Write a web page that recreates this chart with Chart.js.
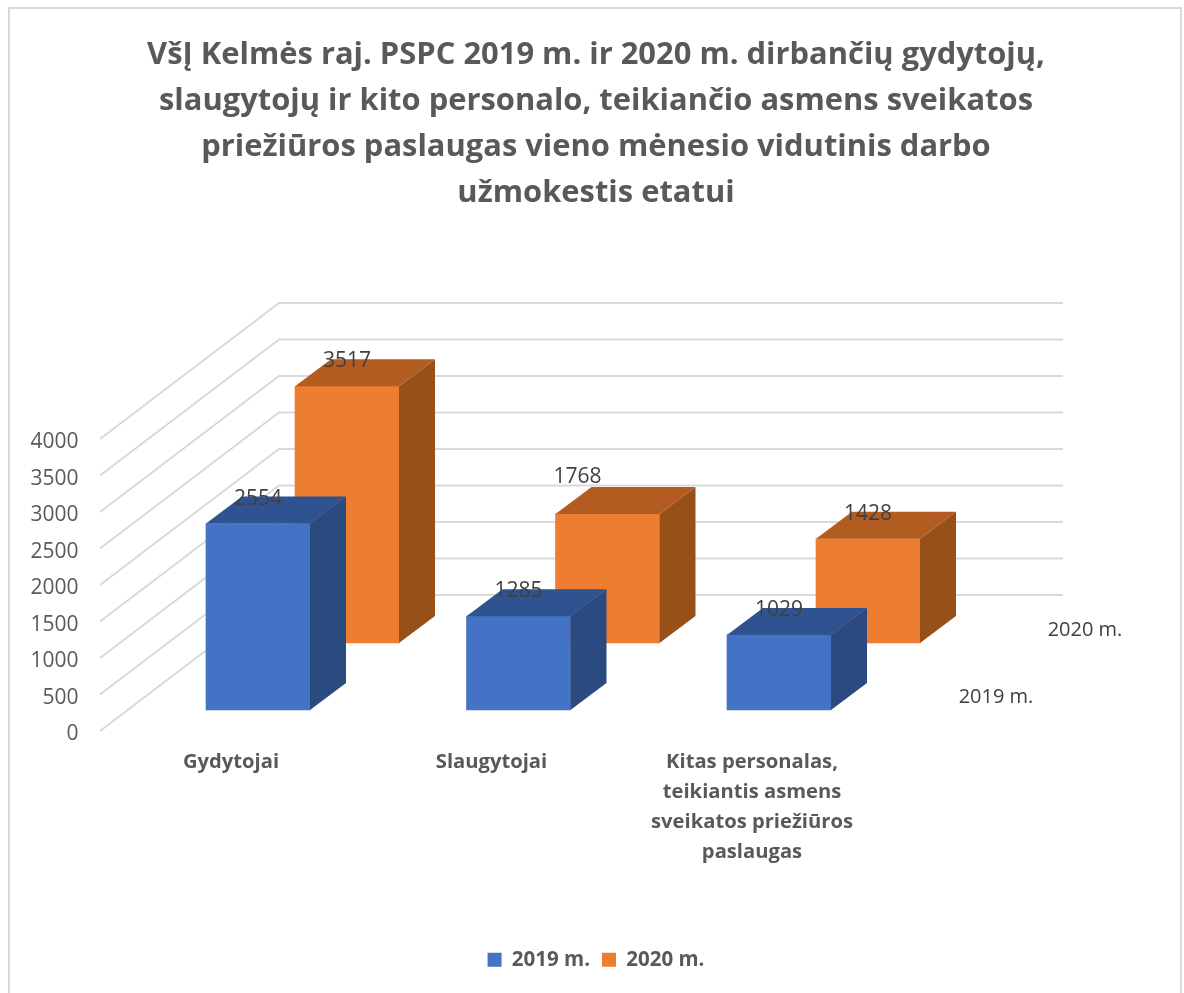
<!DOCTYPE html>
<html lang="lt">
<head>
<meta charset="utf-8">
<title>Vidutinis darbo užmokestis</title>
<style>html,body{margin:0;padding:0;background:#fff}canvas{display:block}</style>
<script src="https://cdn.jsdelivr.net/npm/chart.js@4"></script>
</head>
<body>
<canvas id="c" width="1184" height="993"></canvas>
<script>
const titleLines = [
  "VšĮ Kelmės raj. PSPC 2019 m. ir 2020 m. dirbančių gydytojų,",
  "slaugytojų ir kito personalo, teikiančio asmens sveikatos",
  "priežiūros paslaugas vieno mėnesio vidutinis darbo",
  "užmokestis etatui"
];
const categories = [
  ["Gydytojai"],
  ["Slaugytojai"],
  ["Kitas personalas,", "teikiantis asmens", "sveikatos priežiūros", "paslaugas"]
];
const seriesNames = ["2019 m.", "2020 m."];
const values2019 = [2554, 1285, 1029];
const values2020 = [3517, 1768, 1428];
const valueTicks = [0, 500, 1000, 1500, 2000, 2500, 3000, 3500, 4000];

const FONT = "'Open Sans', sans-serif";
const areaL = 100, areaR = 1063, areaT = 303, areaB = 731, padL = 8;
const pxPerUnit = 0.073, catStep = 260.5;
const labelX0 = 231, frontX0 = 258, rearX0 = 347;
const frontBase = 710, rearBase = 643, wallBase = 595;
const depthX = 36, depthY = 27, wallX = 279, labelNudge = 3.5;
// the one value label the reference has dragged away from its bar: dataset 1, category 1
const movedLabel = { dataset: 1, index: 1, dx: -30, dy: -12 };

const xRange = c0 => ({ offset: false, min: (areaL - c0) / catStep, max: (areaR - c0) / catStep });
const yRange = b => ({ min: -(areaB - b) / pxPerUnit, max: (b - areaT) / pxPerUnit });

const faces = [
  { front: "#4472C4", side: "#2A4A80", top: "#2F5391" },
  { front: "#ED7D31", side: "#985019", top: "#B35C21" }
];

const threeD = {
  id: "threeD",
  beforeDraw(chart) {
    const g = chart.ctx;
    g.save();
    g.strokeStyle = "#D9D9D9"; g.lineWidth = 2;
    g.beginPath(); g.moveTo(9, 993); g.lineTo(9, 8); g.lineTo(1181, 8); g.lineTo(1181, 993); g.stroke();
    g.restore();
  },
  beforeDatasetsDraw(chart) {
    const g = chart.ctx, yT = chart.scales.y, yW = chart.scales.yWall;
    g.save();
    g.strokeStyle = "#D9D9D9"; g.lineWidth = 2;
    valueTicks.forEach(v => {
      g.beginPath();
      g.moveTo(areaL, yT.getPixelForValue(v) - labelNudge);
      g.lineTo(wallX, yW.getPixelForValue(v));
      g.lineTo(areaR, yW.getPixelForValue(v));
      g.stroke();
    });
    g.restore();
  },
  afterDatasetDraw(chart, args) {
    const g = chart.ctx, f = faces[args.index];
    g.save();
    args.meta.data.forEach(bar => {
      const p = bar.getProps(["x", "y", "base", "width"], true);
      const l = p.x - p.width / 2, r = p.x + p.width / 2;
      g.fillStyle = f.side;
      g.beginPath();
      g.moveTo(r, p.y); g.lineTo(r + depthX, p.y - depthY);
      g.lineTo(r + depthX, p.base - depthY); g.lineTo(r, p.base);
      g.closePath(); g.fill();
      g.fillStyle = f.top;
      g.beginPath();
      g.moveTo(l, p.y); g.lineTo(l + depthX, p.y - depthY);
      g.lineTo(r + depthX, p.y - depthY); g.lineTo(r, p.y);
      g.closePath(); g.fill();
    });
    g.restore();
  },
  afterDatasetsDraw(chart) {
    const g = chart.ctx;
    g.save();
    g.fillStyle = "#404040";
    g.textAlign = "center"; g.textBaseline = "middle";
    chart.data.datasets.forEach((ds, di) => {
      const meta = chart.getDatasetMeta(di);
      g.font = "21px " + FONT;
      meta.data.forEach((bar, i) => {
        const moved = di === movedLabel.dataset && i === movedLabel.index;
        g.fillText(String(ds.data[i].y),
          bar.x + (moved ? movedLabel.dx : 0),
          bar.y - 25 + (moved ? movedLabel.dy : 0));
      });
      // depth-axis label, past the last bar group
      const last = meta.data[meta.data.length - 1];
      g.font = "20px " + FONT;
      g.fillText(seriesNames[di], last.x + 217, last.base - 13);
    });
    g.restore();
  }
};

const toPoints = arr => arr.map((y, x) => ({ x, y }));

new Chart(document.getElementById("c"), {
  type: "bar",
  data: {
    datasets: [
      { label: seriesNames[0], data: toPoints(values2019), backgroundColor: faces[0].front,
        xAxisID: "xFront", yAxisID: "yFront", barThickness: 104, grouped: false },
      { label: seriesNames[1], data: toPoints(values2020), backgroundColor: faces[1].front,
        xAxisID: "xRear", yAxisID: "yRear", barThickness: 104, grouped: false }
    ]
  },
  plugins: [threeD],
  options: {
    responsive: false,
    animation: false,
    layout: { padding: { left: padL, right: 0, top: 0, bottom: 13 } },
    plugins: {
      tooltip: { enabled: false },
      title: {
        display: true, text: titleLines, color: "#595959",
        font: { family: FONT, size: 30.9, weight: "bold", lineHeight: 46 / 30.9 },
        padding: { top: 32, bottom: 87 }
      },
      legend: {
        position: "bottom",
        labels: { boxWidth: 14, boxHeight: 14, padding: 12, color: "#595959",
          font: { family: FONT, size: 20.5, weight: "bold" } }
      }
    },
    scales: {
      x: {
        type: "linear", position: "bottom", ...xRange(labelX0),
        grid: { display: false }, border: { display: false },
        afterFit(s) { s.height = 206.5; },
        afterBuildTicks(s) { s.ticks = categories.map((_, i) => ({ value: i })); },
        ticks: {
          autoSkip: false, maxRotation: 0, padding: 8, color: "#595959",
          font: { family: FONT, size: 20.2, weight: "bold", lineHeight: 30 / 20.2 },
          callback: v => categories[v]
        }
      },
      xFront: { type: "linear", display: false, ...xRange(frontX0) },
      xRear: { type: "linear", display: false, ...xRange(rearX0) },
      y: {
        type: "linear", position: "left", ...yRange(areaB + labelNudge),
        grid: { display: false }, border: { display: false },
        afterFit(s) { s.width = areaL - padL; },
        afterBuildTicks(s) { s.ticks = valueTicks.map(value => ({ value })); },
        ticks: { padding: 13.5, color: "#595959", font: { family: FONT, size: 21 }, callback: v => String(v) }
      },
      yFront: { type: "linear", display: false, ...yRange(frontBase) },
      yRear: { type: "linear", display: false, ...yRange(rearBase) },
      yWall: {
        type: "linear", position: "right", ...yRange(wallBase),
        grid: { display: false }, border: { display: false },
        afterFit(s) { s.width = 1184 - areaR; },
        ticks: { display: false }
      }
    }
  }
});
</script>
</body>
</html>
